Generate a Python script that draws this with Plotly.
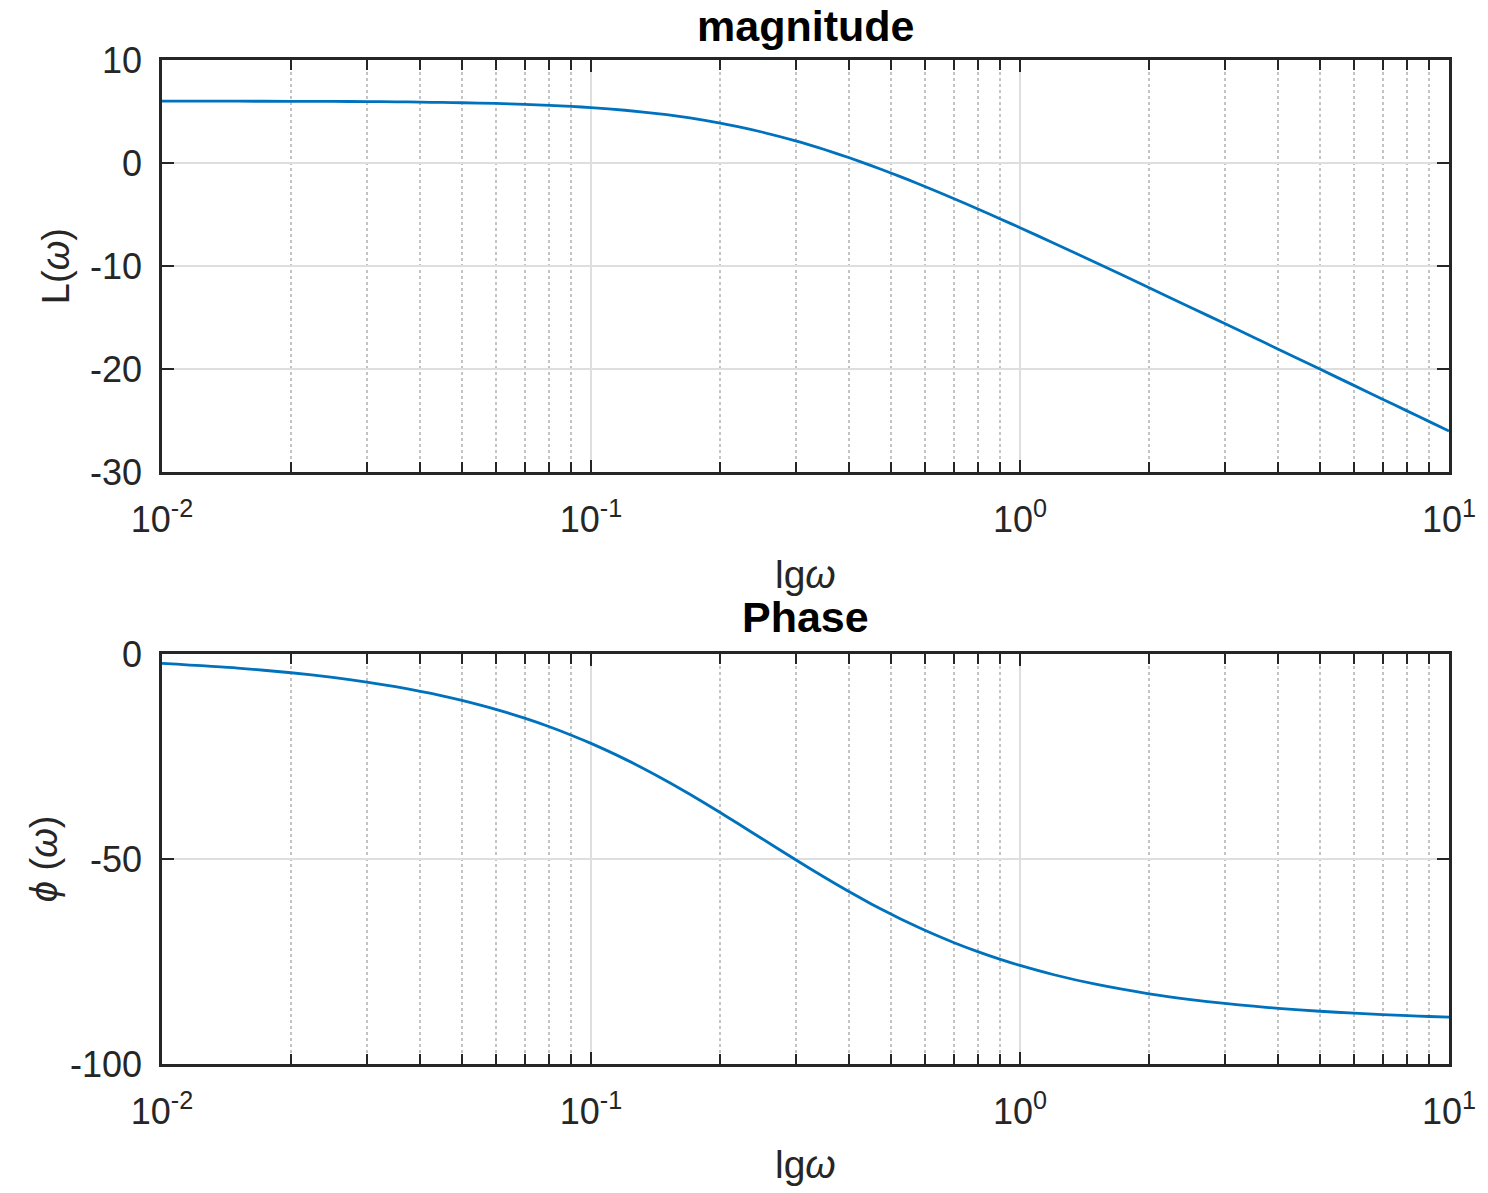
import plotly.graph_objects as go

# Frequency samples (rad/s) and Bode response values
omega = [0.01, 0.015, 0.02, 0.025, 0.03, 0.035, 0.04, 0.045, 0.05, 0.06, 0.07, 0.08, 0.09,
         0.1, 0.12, 0.15, 0.17, 0.2, 0.22, 0.25, 0.3, 0.35, 0.4, 0.45, 0.5, 0.55,
         0.6, 0.7, 0.8, 0.9, 1, 1.2, 1.5, 2, 2.5, 3, 3.5, 4, 5, 6, 7, 8, 9, 10]
magnitude_db = [6.01, 6.00, 5.99, 5.98, 5.96, 5.94, 5.91, 5.88, 5.85, 5.78, 5.69, 5.60, 5.49,
                5.38, 5.12, 4.69, 4.37, 3.87, 3.53, 3.01, 2.15, 1.31, 0.51, -0.25, -0.97, -1.64,
                -2.28, -3.44, -4.49, -5.43, -6.28, -7.79, -9.66, -12.11, -14.02, -15.59, -16.92,
                -18.08, -20.01, -21.59, -22.93, -24.09, -25.11, -26.02]
phase_deg = [-2.29, -3.43, -4.57, -5.71, -6.84, -7.97, -9.09, -10.20, -11.31, -13.50, -15.64,
             -17.74, -19.80, -21.80, -25.64, -30.96, -34.22, -38.66, -41.35, -45.00, -50.19,
             -54.46, -57.99, -60.95, -63.43, -65.56, -67.38, -70.35, -72.65, -74.48, -75.96,
             -78.23, -80.54, -82.87, -84.29, -85.24, -85.91, -86.42, -87.14, -87.61, -87.95,
             -88.21, -88.41, -88.57]

x_tickvals = [0.01, 0.1, 1, 10]
x_ticktext = ["10<sup>-2</sup>", "10<sup>-1</sup>", "10<sup>0</sup>", "10<sup>1</sup>"]
mag_ticks = [-30, -20, -10, 0, 10]
mag_ticktext = ["-30", "-20", "-10", "0", "10"]
phase_ticks = [-100, -50, 0]
phase_ticktext = ["-100", "-50", "0"]

FONT = "Liberation Sans, Arial, Helvetica, sans-serif"
LINE_COLOR = "#0072BD"
AXIS_COLOR = "#262626"
GRID_COLOR = "#dedede"
MINOR_GRID = "#c4c4c4"

fig = go.Figure()
fig.add_trace(go.Scatter(x=omega, y=magnitude_db, mode="lines",
                         line=dict(color=LINE_COLOR, width=2.8, shape="spline", smoothing=0.6),
                         xaxis="x", yaxis="y", showlegend=False))
fig.add_trace(go.Scatter(x=omega, y=phase_deg, mode="lines",
                         line=dict(color=LINE_COLOR, width=2.8, shape="spline", smoothing=0.6),
                         xaxis="x2", yaxis="y2", showlegend=False))

tick_font = dict(family=FONT, size=36, color=AXIS_COLOR)


def xaxis_style(anchor):
    return dict(
        type="log", range=[-2, 1], anchor=anchor,
        tickvals=x_tickvals, ticktext=x_ticktext,
        ticks="inside", ticklen=12, tickwidth=2, tickcolor=AXIS_COLOR,
        showline=True, linecolor=AXIS_COLOR, linewidth=2.5, mirror="ticks",
        showgrid=True, gridcolor=GRID_COLOR, gridwidth=2,
        zeroline=False, tickfont=tick_font, ticklabelstandoff=14,
        minor=dict(dtick="D1", ticks="inside", ticklen=10, tickwidth=2,
                   tickcolor=AXIS_COLOR, showgrid=True, gridcolor=MINOR_GRID,
                   gridwidth=2, griddash="dot"),
    )


def yaxis_style(anchor, domain, rng, vals, text):
    return dict(
        domain=domain, range=rng, anchor=anchor, tickvals=vals, ticktext=text,
        ticks="inside", ticklen=12, tickwidth=2, tickcolor=AXIS_COLOR,
        showline=True, linecolor=AXIS_COLOR, linewidth=2.5, mirror="ticks",
        showgrid=True, gridcolor=GRID_COLOR, gridwidth=2,
        zeroline=False, tickfont=tick_font, ticklabelstandoff=10,
    )


W, H = 1488, 1193
ml, mr, mt, mb = 162, 37, 60, 129
ph = H - mt - mb

top_dom = [(1064 - 472) / ph, 1.0]
bot_dom = [0.0, (1064 - 654) / ph]

fig.update_layout(
    width=W, height=H,
    margin=dict(l=ml, r=mr, t=mt, b=mb),
    paper_bgcolor="white", plot_bgcolor="white",
    font=dict(family=FONT, color=AXIS_COLOR),
    xaxis=xaxis_style("y"),
    yaxis=yaxis_style("x", top_dom, [-30, 10], mag_ticks, mag_ticktext),
    xaxis2=xaxis_style("y2"),
    yaxis2=yaxis_style("x2", bot_dom, [-100, 0], phase_ticks, phase_ticktext),
)


def px_x(x):
    return (x - ml) / (W - ml - mr)


def px_y(y):
    return (H - mb - y) / ph


annotations = [
    dict(text="<b>magnitude</b>", x=px_x(807), y=px_y(26), font_size=43, font_color="black"),
    dict(text="<b>Phase</b>", x=px_x(807), y=px_y(617), font_size=43, font_color="black"),
    dict(text="lg<i>ω</i>", x=px_x(807), y=px_y(574), font_size=39),
    dict(text="lg<i>ω</i>", x=px_x(807), y=px_y(1164), font_size=39),
    dict(text="L(<i>ω</i>)", x=px_x(56), y=px_y(266), font_size=38, textangle=-90),
    dict(text="<i>ϕ</i> (<i>ω</i>)", x=px_x(44), y=px_y(859), font_size=38, textangle=-90),
]
for a in annotations:
    a.update(xref="paper", yref="paper", showarrow=False,
             xanchor="center", yanchor="middle")
fig.update_layout(annotations=annotations)

fig.write_html("out.html")
